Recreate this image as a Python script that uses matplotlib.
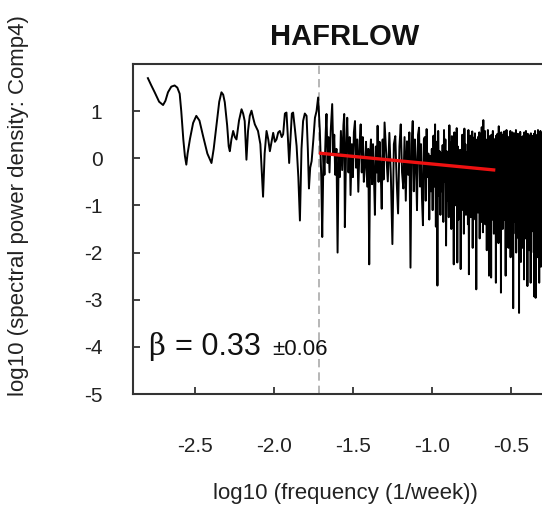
import numpy as np
import matplotlib
matplotlib.use("Agg")
import matplotlib.pyplot as plt

# ---------------- data ----------------
title = "HAFRLOW"
x_label = "log10 (frequency (1/week))"
y_label = "log10 (spectral power density: Comp4)"
x_ticks = [-2.5, -2.0, -1.5, -1.0, -0.5]
y_ticks = [1, 0, -1, -2, -3, -4, -5]

# low-frequency part of the spectrum: (log10 frequency, log10 PSD) vertices
low_logf = [
    -2.796, -2.775, -2.753, -2.725, -2.700, -2.685, -2.669, -2.648, -2.627, -2.610,
    -2.595, -2.585, -2.572, -2.562, -2.553, -2.545, -2.530, -2.510, -2.490, -2.470,
    -2.447, -2.420, -2.394, -2.380, -2.363, -2.345, -2.331, -2.320, -2.310, -2.295,
    -2.285, -2.278, -2.268, -2.257, -2.246, -2.236, -2.220, -2.204, -2.194, -2.184,
    -2.173, -2.163, -2.152, -2.141, -2.130, -2.120, -2.100, -2.085, -2.068, -2.058,
    -2.046, -2.035, -2.025, -2.004, -1.993, -1.983, -1.972, -1.962, -1.950, -1.941,
    -1.930, -1.920, -1.912, -1.903, -1.895, -1.886, -1.878, -1.866, -1.856, -1.845,
    -1.835, -1.825, -1.815, -1.804, -1.793, -1.785, -1.778, -1.770, -1.761, -1.750,
    -1.740, -1.730, -1.720, -1.709, -1.700, -1.694, -1.686, -1.680, -1.672, -1.667,
    -1.660, -1.654, -1.648, -1.640, -1.631, -1.624, -1.618, -1.612, -1.604, -1.597,
    -1.590, -1.583, -1.576, -1.568, -1.560, -1.555, -1.551, -1.543, -1.536, -1.528,
    -1.521, -1.515, -1.507, -1.500, -1.494, -1.487, -1.480, -1.473, -1.466, -1.458,
    -1.451, -1.444, -1.438, -1.431, -1.424, -1.417, -1.410, -1.403, -1.397, -1.391,
    -1.386, -1.379, -1.373, -1.367, -1.361, -1.355, -1.349, -1.344, -1.338, -1.332,
    -1.325, -1.318, -1.312, -1.306]
low_psd = [
    1.70, 1.55, 1.40, 1.20, 1.13, 1.22, 1.40, 1.52, 1.545, 1.50,
    1.37, 1.00, 0.40, 0.05, -0.135, 0.10, 0.41, 0.75, 0.90, 0.80,
    0.47, 0.10, -0.10, 0.20, 0.69, 1.20, 1.40, 1.35, 1.19, 0.70,
    0.25, 0.15, 0.40, 0.58, 0.45, 0.40, 0.80, 1.04, 0.95, 0.79,
    -0.03, 0.58, 0.90, 1.01, 0.85, 0.72, 0.58, 0.30, -0.815, 0.10,
    0.58, 0.40, 0.15, 0.54, 0.35, 0.40, 0.55, 0.58, 0.45, 0.51,
    0.95, 0.97, 0.50, -0.10, 0.40, 0.95, 0.97, 0.60, 0.26, -0.40,
    -1.32, 0.20, 0.79, 0.95, 0.90, 0.20, -0.64, -0.20, -0.06, 0.40,
    0.86, 1.00, 1.29, 0.58, -0.40, -1.67, 0.10, -0.35, 0.55, 0.94,
    -0.10, 0.45, -0.30, 0.60, 1.15, 0.10, 0.50, -0.35, 0.20, -2.00,
    0.10, -0.40, 0.58, -0.25, 0.70, 0.94, -1.46, 0.20, 0.86, -0.30,
    0.45, -0.78, 0.30, -0.40, 0.55, 0.79, -0.20, 0.40, -0.71, 0.30,
    0.72, -0.30, 0.45, -0.50, -0.135, 0.35, -0.60, 0.20, -2.25, 0.10,
    0.40, -0.55, 0.30, -0.40, -1.20, 0.25, -0.30, 0.69, -0.50, 0.35,
    -0.20, -1.07, 0.40, -0.45]

# high-frequency part: frequency range (1/week) and log10 PSD values on an even grid
high_f_start = 10 ** -1.30
high_f_end = 0.5
high_psd = [
    0.76, 0.10, -0.49, 0.54, -0.40, -1.82, 0.30, 0.47, -0.50, -1.17, 0.25, 0.72, -0.30, -0.64, 0.45, -0.90,
    0.36, -0.35, 0.55, -2.32, 0.30, 0.79, -0.70, 0.40, -0.135, -1.10, 0.50, 0.65, -0.60, 0.30, -0.85, -1.42, 0.40,
    0.45, -0.9, 0.62, -0.4, 0.10, -1.3, 0.05, -0.7, 0.20, -1.1, 0.48, -0.6, 0.72, -1.45, 0.35, -2.70, 0.58, -0.8, 0.15, -1.2,
    0.10, -0.7, 0.28, -1.35, 0.60, -0.5, 0.40, -1.85, 0.15, -0.9, 0.02, -1.25, 0.70, -0.6, 0.33, -1.5, 0.47, -0.85, 0.12, -2.25,
    0.55, -1.0, 0.38, -0.6, 0.64, -2.21, 0.25, -1.3, 0.05, -0.75, 0.18, -2.35, 0.18, -1.1, 0.50, -0.55, 0.35, -1.6, 0.63, -0.9,
    0.30, -1.2, 0.12, -0.7, 0.02, -1.4, 0.60, -2.46, 0.20, -0.8, 0.48, -1.25, 0.35, -0.6, 0.57, -1.9, 0.07, -1.05, 0.44, -0.75,
    0.53, -1.3, 0.40, -2.78, 0.15, -0.9, 0.25, -1.15, 0.46, -0.65, 0.55, -1.7, 0.10, -0.95, 0.50, -1.35, 0.66, -0.7, 0.38, -1.57,
    0.81, -1.0, 0.45, -0.6, 0.58, -1.4, 0.10, -0.85, 0.02, -1.95, 0.40, -1.1, 0.60, -0.7, 0.28, -2.49, 0.47, -1.2, 0.05, -0.8,
    0.15, -2.53, 0.50, -1.0, 0.22, -1.3, 0.58, -0.65, 0.42, -1.6, 0.05, -0.9, 0.10, -1.25, 0.37, -2.64, 0.48, -0.75, 0.26, -1.4,
    0.52, -0.9, 0.40, -1.8, 0.68, -1.1, 0.20, -0.6, 0.00, -1.35, 0.13, -2.85, 0.55, -1.0, 0.43, -0.7, 0.28, -1.5, 0.50, -1.15,
    0.36, -0.8, 0.57, -1.3, 0.04, -1.05, 0.08, -2.49, 0.40, -0.9, 0.60, -1.4, 0.30, -0.65, 0.46, -1.2, 0.12, -1.9, 0.18, -1.0,
    0.44, -1.3, 0.35, -0.75, 0.58, -2.1, 0.26, -1.1, 0.05, -0.85, 0.40, -1.45, 0.55, -1.0, 0.10, -3.18, 0.47, -1.2, 0.22, -0.7,
    0.53, -1.35, 0.15, -0.9, 0.00, -1.6, 0.60, -2.0, 0.25, -1.1, 0.48, -0.8, 0.03, -1.4, 0.52, -1.0, 0.20, -1.7, 0.41, -3.28,
    0.50, -1.2, 0.08, -0.75, 0.56, -1.45, 0.38, -2.2, 0.45, -0.95, 0.02, -1.3, 0.15, -0.7, 0.35, -1.9, 0.47, -1.15, 0.28, -0.85,
    0.43, -2.57, 0.55, -1.0, 0.10, -1.35, 0.00, -0.8, 0.36, -1.7, 0.58, -1.1, 0.25, -0.9, 0.46, -1.45, 0.08, -2.71, 0.52, -1.05,
    0.32, -0.8, 0.50, -1.3, 0.05, -1.95, 0.12, -1.0, 0.28, -1.4, 0.45, -0.75, 0.36, -2.64, 0.53, -1.2, 0.00, -0.95, 0.48, -1.55,
    0.40, -1.05, 0.05, -0.8, 0.30, -1.5, 0.47, -1.15, 0.35, -2.0, 0.52, -2.93, 0.06, -1.0, 0.14, -1.35, 0.58, -0.85, 0.33, -2.96,
    0.46, -1.2, 0.02, -0.9, 0.16, -1.45, 0.28, -2.1, 0.50, -1.05, 0.42, -0.75, 0.60, -1.6, 0.04, -1.1, 0.48, -1.3, 0.40, -2.64,
    0.52, -1.0, 0.10, -1.35, 0.45, -0.85, 0.58, -1.5, 0.06, -2.3, 0.49, -1.1, 0.25, -0.9, 0.54, -1.4, 0.12, -1.9, 0.47, -1.15,
]

# scaling-region fit (red line) and its lower bound (dashed line)
fit_logf = [-1.715, -0.60]
fit_psd = [0.11, -0.25]
fit_start_logf = -1.715
beta_text = "= 0.33"
beta_err_text = "\u00b10.06"

# ---------------- build series ----------------
high_logf = np.log10(np.linspace(high_f_start, high_f_end, len(high_psd)))
all_logf = np.concatenate([np.array(low_logf), high_logf])
all_psd = np.concatenate([np.array(low_psd), np.array(high_psd)])

# ---------------- figure ----------------
plt.rcParams['font.family'] = ['Liberation Sans', 'DejaVu Sans']
fig = plt.figure(figsize=(5.42, 5.20), dpi=100)
ax = fig.add_axes([0.2454, 0.2423, 0.7823, 0.6346])

ax.axvline(fit_start_logf, color='#aaaaaa', lw=1.2, linestyle=(0, (5, 3)), zorder=1)
ax.plot(all_logf, all_psd, color='black', lw=1.4, zorder=2)
ax.plot(fit_logf, fit_psd, color='#ee1111', lw=2.4, zorder=3, solid_capstyle='butt')

ax.set_xlim(-2.89, -0.21)
ax.set_ylim(-5, 2)
ax.set_xticks(x_ticks)
ax.set_xticklabels([f"{t:.1f}" for t in x_ticks])
ax.set_yticks(y_ticks)
ax.set_yticklabels([str(t) for t in y_ticks])
ax.tick_params(axis='both', direction='in', length=5, width=1.2, labelsize=15,
               colors='#222222', labelcolor='#222222')
ax.tick_params(axis='x', pad=31)
ax.tick_params(axis='y', pad=22)
for side in ['left', 'bottom', 'top']:
    ax.spines[side].set_linewidth(1.5)
    ax.spines[side].set_color('#333333')
ax.spines['right'].set_visible(False)

ax.set_title(title, fontsize=21, fontweight='bold', pad=14, color='#111111')
ax.set_xlabel(x_label, fontsize=16, color='#222222')
ax.set_ylabel(y_label, fontsize=16, color='#222222')
ax.xaxis.set_label_coords(0.5, -0.30)
ax.xaxis.label.set_va('center')
ax.yaxis.set_label_coords(-0.271, 0.57)
ax.yaxis.label.set_va('center')

ax.text(-2.797, -4.18, "\u03b2", fontsize=21, family=['DejaVu Serif'], va='baseline', ha='left',
        color='#111111')
ax.text(-2.627, -4.18, beta_text, fontsize=22, va='baseline', ha='left', color='#111111')
ax.text(-2.013, -4.18, beta_err_text, fontsize=16, va='baseline', ha='left', color='#111111')

fig.savefig("out.png", dpi=100)
